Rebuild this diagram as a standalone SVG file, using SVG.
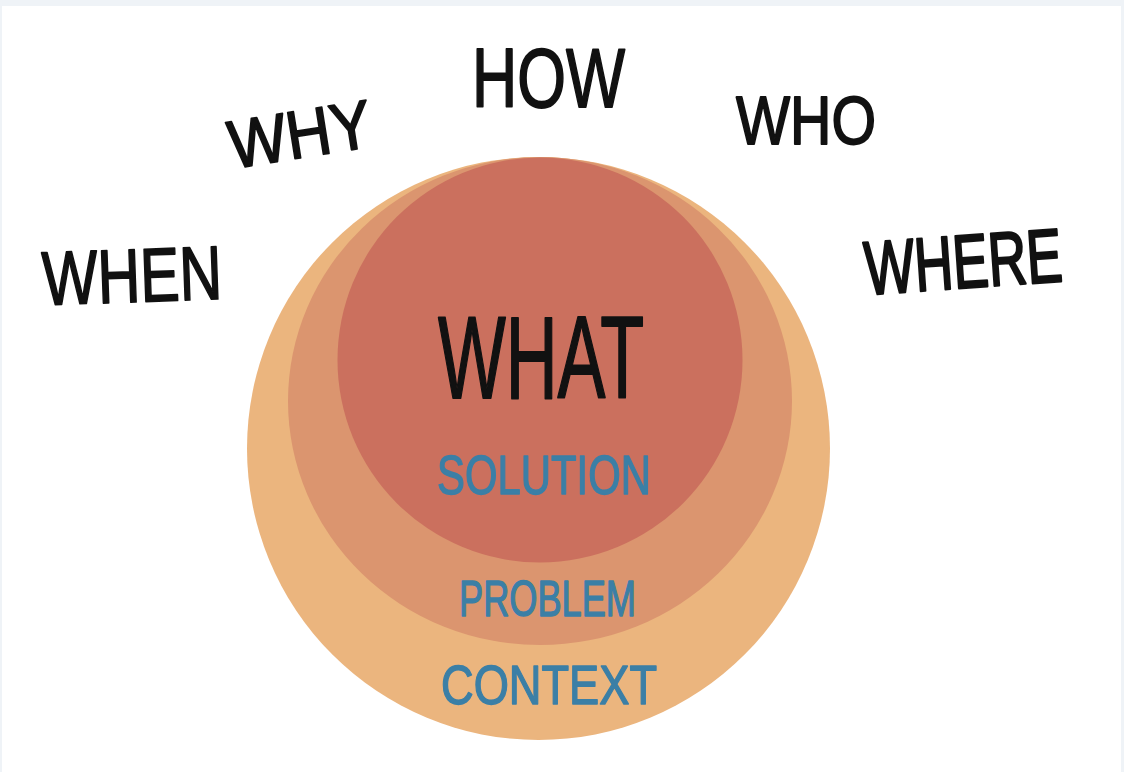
<svg xmlns="http://www.w3.org/2000/svg" width="1124" height="772" viewBox="0 0 1124 772">
<style>
.hand{font-family:"Liberation Sans","DejaVu Sans",sans-serif;fill:#111;stroke:#111;stroke-width:1.8;stroke-linejoin:round;}
.blue{font-family:"Liberation Sans","DejaVu Sans",sans-serif;fill:#3b7fa6;stroke:#3b7fa6;stroke-width:1.4;stroke-linejoin:round;}
</style>
<rect x="0" y="0" width="1124" height="772" fill="#eff3f7"/>
<rect x="2" y="6" width="1119" height="766" fill="#ffffff"/>
<g id="context">
<circle cx="538.5" cy="448.5" r="291.5" fill="#ebb57e"/>
</g>
<g id="problem">
<ellipse cx="540" cy="401" rx="252" ry="244" fill="#db956f"/>
</g>
<g id="solution">
<circle cx="540" cy="360" r="202.5" fill="#cb705e"/>
</g>
<g id="what"><text class="hand" x="438" y="398" font-size="116" textLength="206" lengthAdjust="spacingAndGlyphs">WHAT</text></g>
<g id="solution-label"><text class="blue" x="437" y="494" font-size="56" textLength="214" lengthAdjust="spacingAndGlyphs">SOLUTION</text></g>
<g id="problem-label"><text class="blue" x="459" y="616" font-size="50" textLength="177" lengthAdjust="spacingAndGlyphs">PROBLEM</text></g>
<g id="context-label"><text class="blue" x="441" y="704" font-size="55" textLength="216" lengthAdjust="spacingAndGlyphs">CONTEXT</text></g>
<g id="when"><text class="hand" x="42" y="302" font-size="76" textLength="180" lengthAdjust="spacingAndGlyphs" transform="rotate(-2 131 275)">WHEN</text></g>
<g id="why"><text class="hand" x="228" y="158" font-size="68" textLength="144" lengthAdjust="spacingAndGlyphs" transform="rotate(-9 298 135)">WHY</text></g>
<g id="how"><text class="hand" x="472" y="107" font-size="84" textLength="153" lengthAdjust="spacingAndGlyphs">HOW</text></g>
<g id="who"><text class="hand" x="736" y="144" font-size="68" textLength="140" lengthAdjust="spacingAndGlyphs">WHO</text></g>
<g id="where"><text class="hand" x="864" y="288" font-size="54" textLength="198" lengthAdjust="spacingAndGlyphs" transform="rotate(-4 962 260) translate(0 288) scale(1 1.4) translate(0 -288)">WHERE</text></g>
</svg>
